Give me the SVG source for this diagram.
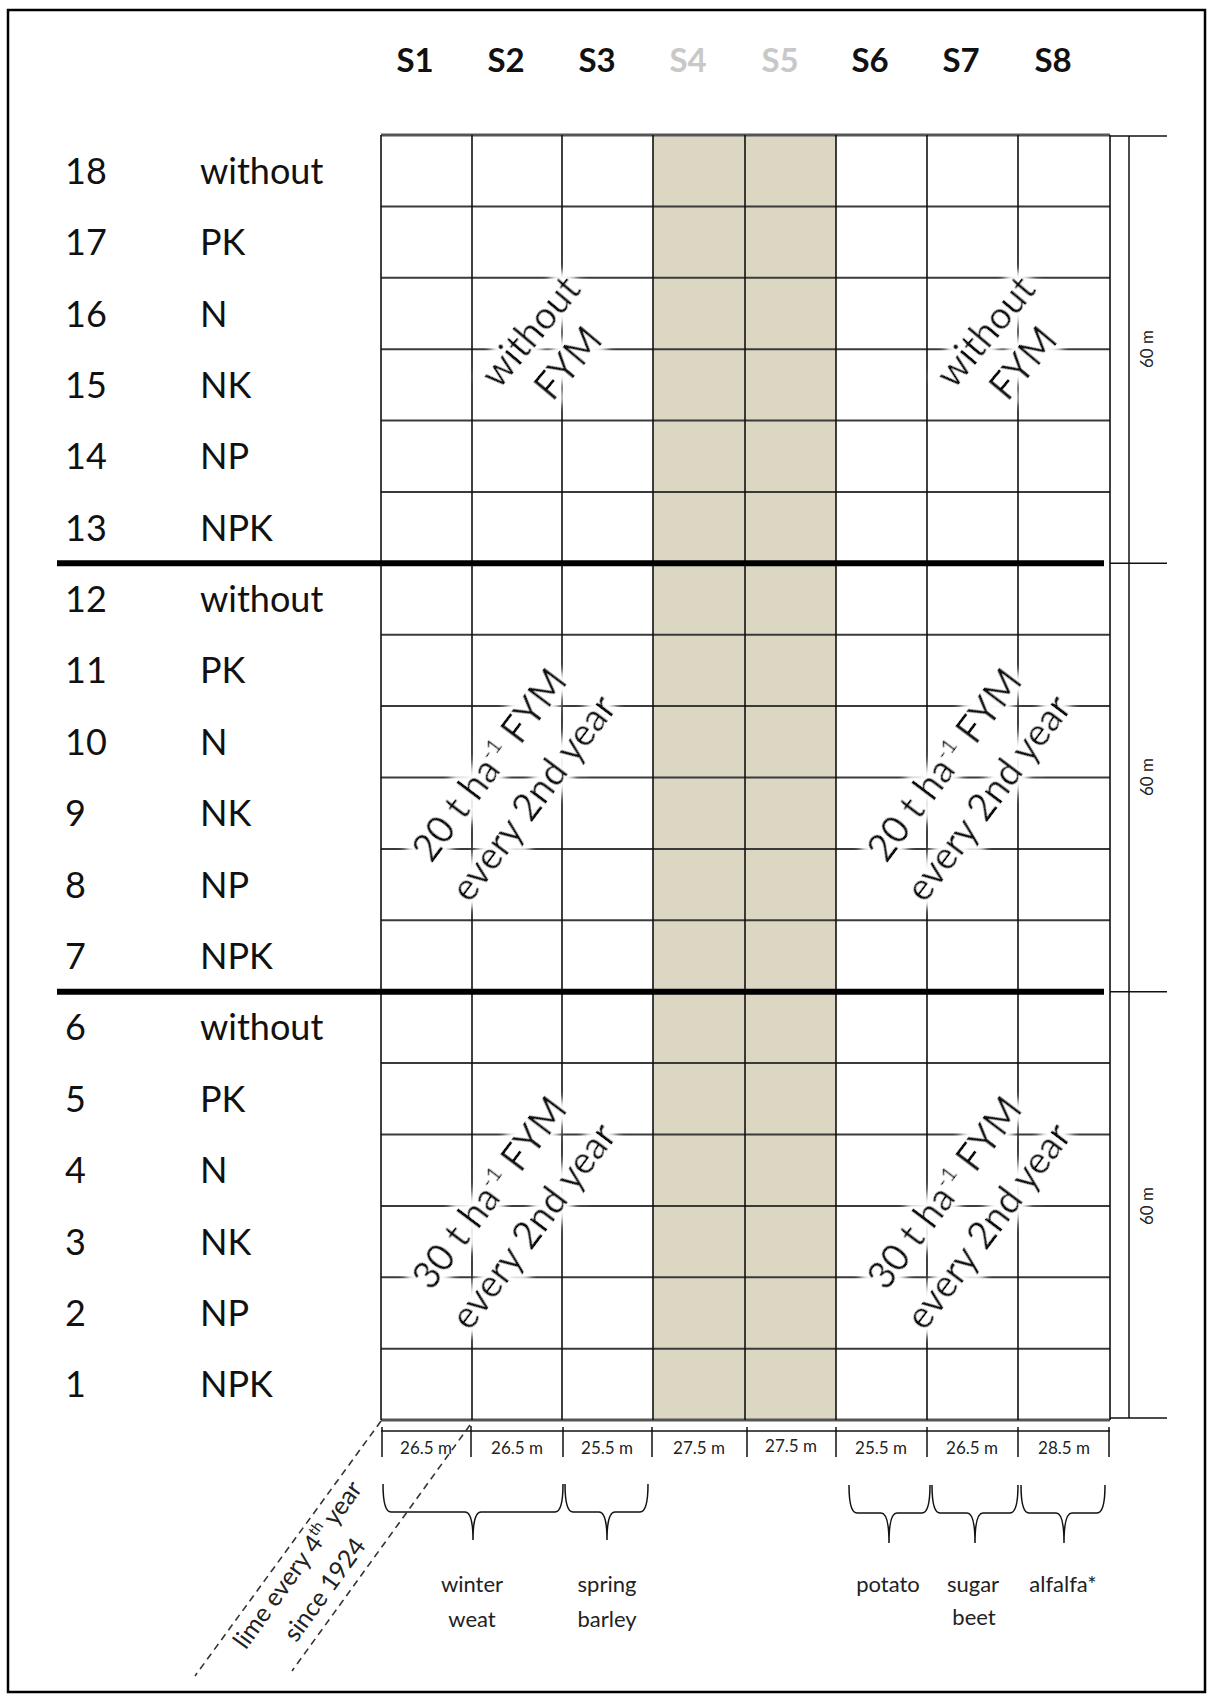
<svg xmlns="http://www.w3.org/2000/svg" width="1208" height="1698" viewBox="0 0 1208 1698">
<defs>
<style>
text{font-family:Lato,"Open Sans","Liberation Sans",sans-serif;fill:#111}
.rl{font-size:36px}
.sh{font-size:33px;font-weight:bold;text-anchor:middle}
.shg{fill:#c8c8c8}
.dg{font-size:38px;text-anchor:middle}
.dim{font-size:17px;text-anchor:middle;fill:#222}
.crop{font-size:22px;text-anchor:middle;fill:#222}
.lime{font-size:25px;text-anchor:middle;fill:#222}
.v{stroke:#111;stroke-width:1.6}
.h{stroke:#3a3a3a;stroke-width:2}
.hb{stroke:#555;stroke-width:3}
.thick{stroke:#000;stroke-width:6}
.thin{stroke:#111;stroke-width:1.5;fill:none}
.dash{stroke:#333;stroke-width:1.6;stroke-dasharray:7 5;fill:none}
</style>
<filter id="halo" x="-30%" y="-60%" width="160%" height="220%">
<feMorphology in="SourceAlpha" operator="dilate" radius="5" result="d"/>
<feGaussianBlur in="d" stdDeviation="4" result="b"/>
<feFlood flood-color="#ffffff"/>
<feComposite in2="b" operator="in" result="w"/>
<feMerge><feMergeNode in="w"/><feMergeNode in="w"/><feMergeNode in="SourceGraphic"/></feMerge>
</filter>
</defs>
<rect x="0" y="0" width="1208" height="1698" fill="#fff"/>
<rect id="border" x="8" y="10" width="1197" height="1682" fill="none" stroke="#000" stroke-width="2.5"/>

<g id="strips">
<rect x="653" y="135" width="183" height="1285" fill="#dbd7c3"/>
</g>

<g id="grid">
<line class="hb" x1="381" y1="135" x2="1110" y2="135"/>
<line class="h" x1="381" y1="206.4" x2="1110" y2="206.4"/>
<line class="h" x1="381" y1="277.8" x2="1110" y2="277.8"/>
<line class="h" x1="381" y1="349.2" x2="1110" y2="349.2"/>
<line class="h" x1="381" y1="420.6" x2="1110" y2="420.6"/>
<line class="h" x1="381" y1="492" x2="1110" y2="492"/>
<line class="h" x1="381" y1="634.7" x2="1110" y2="634.7"/>
<line class="h" x1="381" y1="706.1" x2="1110" y2="706.1"/>
<line class="h" x1="381" y1="777.5" x2="1110" y2="777.5"/>
<line class="h" x1="381" y1="848.9" x2="1110" y2="848.9"/>
<line class="h" x1="381" y1="920.3" x2="1110" y2="920.3"/>
<line class="h" x1="381" y1="1063.1" x2="1110" y2="1063.1"/>
<line class="h" x1="381" y1="1134.5" x2="1110" y2="1134.5"/>
<line class="h" x1="381" y1="1205.9" x2="1110" y2="1205.9"/>
<line class="h" x1="381" y1="1277.3" x2="1110" y2="1277.3"/>
<line class="h" x1="381" y1="1348.7" x2="1110" y2="1348.7"/>
<line class="hb" x1="381" y1="1420" x2="1110" y2="1420"/>
<line class="v" x1="381" y1="135" x2="381" y2="1420"/>
<line class="v" x1="472" y1="135" x2="472" y2="1420"/>
<line class="v" x1="562" y1="135" x2="562" y2="1420"/>
<line class="v" x1="653" y1="135" x2="653" y2="1420"/>
<line class="v" x1="745" y1="135" x2="745" y2="1420"/>
<line class="v" x1="836" y1="135" x2="836" y2="1420"/>
<line class="v" x1="927" y1="135" x2="927" y2="1420"/>
<line class="v" x1="1018" y1="135" x2="1018" y2="1420"/>
<line class="v" x1="1110" y1="135" x2="1110" y2="1420"/>
<line class="thick" x1="57" y1="563.3" x2="1104" y2="563.3"/>
<line class="thick" x1="57" y1="991.7" x2="1104" y2="991.7"/>
</g>

<g id="strip-labels">
<text class="sh" x="415" y="72">S1</text>
<text class="sh" x="506" y="72">S2</text>
<text class="sh" x="597" y="72">S3</text>
<text class="sh shg" x="688" y="72">S4</text>
<text class="sh shg" x="780" y="72">S5</text>
<text class="sh" x="870" y="72">S6</text>
<text class="sh" x="961" y="72">S7</text>
<text class="sh" x="1053" y="72">S8</text>
</g>

<g id="row-labels">
<text class="rl" x="65" y="184">18</text><text class="rl" x="200" y="184">without</text>
<text class="rl" x="65" y="255">17</text><text class="rl" x="200" y="255">PK</text>
<text class="rl" x="65" y="327">16</text><text class="rl" x="200" y="327">N</text>
<text class="rl" x="65" y="398">15</text><text class="rl" x="200" y="398">NK</text>
<text class="rl" x="65" y="469">14</text><text class="rl" x="200" y="469">NP</text>
<text class="rl" x="65" y="541">13</text><text class="rl" x="200" y="541">NPK</text>
<text class="rl" x="65" y="612">12</text><text class="rl" x="200" y="612">without</text>
<text class="rl" x="65" y="683">11</text><text class="rl" x="200" y="683">PK</text>
<text class="rl" x="65" y="755">10</text><text class="rl" x="200" y="755">N</text>
<text class="rl" x="65" y="826">9</text><text class="rl" x="200" y="826">NK</text>
<text class="rl" x="65" y="898">8</text><text class="rl" x="200" y="898">NP</text>
<text class="rl" x="65" y="969">7</text><text class="rl" x="200" y="969">NPK</text>
<text class="rl" x="65" y="1040">6</text><text class="rl" x="200" y="1040">without</text>
<text class="rl" x="65" y="1112">5</text><text class="rl" x="200" y="1112">PK</text>
<text class="rl" x="65" y="1183">4</text><text class="rl" x="200" y="1183">N</text>
<text class="rl" x="65" y="1255">3</text><text class="rl" x="200" y="1255">NK</text>
<text class="rl" x="65" y="1326">2</text><text class="rl" x="200" y="1326">NP</text>
<text class="rl" x="65" y="1397">1</text><text class="rl" x="200" y="1397">NPK</text>
</g>

<g id="fym-labels">
<g transform="translate(550,348) rotate(-50)">
<text class="dg" filter="url(#halo)" x="0" y="-12">without</text>
<text class="dg" filter="url(#halo)" x="0" y="37">FYM</text>
</g>
<g transform="translate(1005,348) rotate(-50)">
<text class="dg" filter="url(#halo)" x="0" y="-12">without</text>
<text class="dg" filter="url(#halo)" x="0" y="37">FYM</text>
</g>
<g transform="translate(512,782) rotate(-53)">
<text class="dg" filter="url(#halo)" x="0" y="-15">20 t ha<tspan font-size="22" dy="-14">-1</tspan><tspan dy="14"> FYM</tspan></text>
<text class="dg" filter="url(#halo)" x="0" y="40">every 2nd year</text>
</g>
<g transform="translate(967,782) rotate(-53)">
<text class="dg" filter="url(#halo)" x="0" y="-15">20 t ha<tspan font-size="22" dy="-14">-1</tspan><tspan dy="14"> FYM</tspan></text>
<text class="dg" filter="url(#halo)" x="0" y="40">every 2nd year</text>
</g>
<g transform="translate(512,1210) rotate(-53)">
<text class="dg" filter="url(#halo)" x="0" y="-15">30 t ha<tspan font-size="22" dy="-14">-1</tspan><tspan dy="14"> FYM</tspan></text>
<text class="dg" filter="url(#halo)" x="0" y="40">every 2nd year</text>
</g>
<g transform="translate(967,1210) rotate(-53)">
<text class="dg" filter="url(#halo)" x="0" y="-15">30 t ha<tspan font-size="22" dy="-14">-1</tspan><tspan dy="14"> FYM</tspan></text>
<text class="dg" filter="url(#halo)" x="0" y="40">every 2nd year</text>
</g>
</g>

<g id="dimensions">
<line class="thin" x1="381" y1="1431" x2="1110" y2="1431"/>
<line class="thin" x1="382" y1="1427" x2="382" y2="1457"/>
<line class="thin" x1="471" y1="1426" x2="471" y2="1457"/>
<line class="thin" x1="563" y1="1427" x2="563" y2="1457"/>
<line class="thin" x1="652" y1="1427" x2="652" y2="1457"/>
<line class="thin" x1="747" y1="1427" x2="747" y2="1457"/>
<line class="thin" x1="836" y1="1427" x2="836" y2="1457"/>
<line class="thin" x1="927" y1="1427" x2="927" y2="1457"/>
<line class="thin" x1="1018" y1="1427" x2="1018" y2="1457"/>
<line class="thin" x1="1109" y1="1427" x2="1109" y2="1457"/>
<text class="dim" x="426" y="1454">26.5 m</text>
<text class="dim" x="517" y="1454">26.5 m</text>
<text class="dim" x="607" y="1454">25.5 m</text>
<text class="dim" x="699" y="1454">27.5 m</text>
<text class="dim" x="791" y="1452">27.5 m</text>
<text class="dim" x="881" y="1454">25.5 m</text>
<text class="dim" x="972" y="1454">26.5 m</text>
<text class="dim" x="1064" y="1454">28.5 m</text>
<line class="thin" x1="1129" y1="136" x2="1129" y2="1418"/>
<line class="thin" x1="1110" y1="136" x2="1167" y2="136"/>
<line class="thin" x1="1110" y1="563.3" x2="1167" y2="563.3"/>
<line class="thin" x1="1110" y1="991.7" x2="1167" y2="991.7"/>
<line class="thin" x1="1110" y1="1418" x2="1167" y2="1418"/>
<text class="dim" font-size="14" transform="translate(1153,349) rotate(-90)">60 m</text>
<text class="dim" font-size="14" transform="translate(1153,777) rotate(-90)">60 m</text>
<text class="dim" font-size="14" transform="translate(1153,1206) rotate(-90)">60 m</text>
</g>

<g id="crops">
<path class="thin" d="M383,1484 Q383,1512 391,1512 L465,1512 Q473,1512 473,1540 Q473,1512 481,1512 L555,1512 Q563,1512 563,1484"/>
<path class="thin" d="M565,1484 Q565,1512 573,1512 L599,1512 Q607,1512 607,1540 Q607,1512 615,1512 L640,1512 Q648,1512 648,1484"/>
<path class="thin" d="M849,1485 Q849,1513 857,1513 L881,1513 Q889,1513 889,1543 Q889,1513 897,1513 L922,1513 Q930,1513 930,1485"/>
<path class="thin" d="M932,1485 Q932,1513 940,1513 L967,1513 Q975,1513 975,1543 Q975,1513 983,1513 L1010,1513 Q1018,1513 1018,1485"/>
<path class="thin" d="M1021,1485 Q1021,1513 1029,1513 L1056,1513 Q1064,1513 1064,1543 Q1064,1513 1072,1513 L1097,1513 Q1105,1513 1105,1485"/>
<text class="crop" x="472" y="1592">winter</text>
<text class="crop" x="472" y="1627">weat</text>
<text class="crop" x="607" y="1592">spring</text>
<text class="crop" x="607" y="1627">barley</text>
<text class="crop" x="888" y="1592">potato</text>
<text class="crop" x="973" y="1592">sugar</text>
<text class="crop" x="974" y="1625">beet</text>
<text class="crop" x="1063" y="1592">alfalfa*</text>
</g>

<g id="lime">
<line class="dash" x1="381" y1="1421" x2="195" y2="1676"/>
<line class="dash" x1="470" y1="1425" x2="292" y2="1671"/>
<text class="lime" transform="translate(298,1565) rotate(-54)" y="8">lime every 4<tspan font-size="15" dy="-10">th</tspan><tspan dy="10"> year</tspan></text>
<text class="lime" transform="translate(325,1590) rotate(-54)" y="8">since 1924</text>
</g>
</svg>
